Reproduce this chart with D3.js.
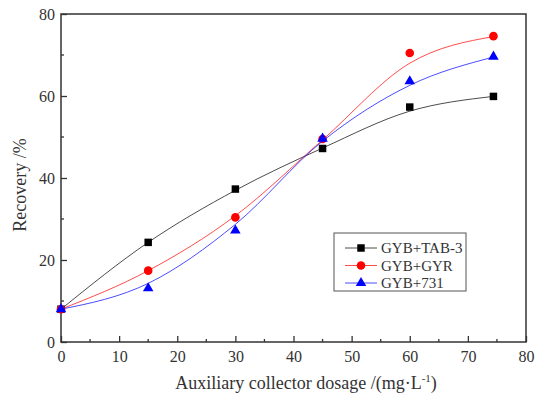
<!DOCTYPE html>
<html>
<head>
<meta charset="utf-8">
<script src="https://cdn.jsdelivr.net/npm/d3@7"></script>
<style>
  body { margin: 0; background: #fff; }
  svg text { font-family: "Liberation Serif", "Times New Roman", Times, serif !important; fill: #333; }
</style>
</head>
<body>
<svg width="547" height="395"></svg>
<script>
// data
let dosage = [0, 15, 30, 45, 60, 74.4];
let tab3 = [8, 24.3, 37.3, 47.2, 57.3, 59.9];
let gyr = [8, 17.4, 30.4, 49.5, 70.5, 74.6];
let s731 = [8, 13.1, 27.2, 49.6, 63.6, 69.6];
// fitted curves as drawn (read at the same dosages)
let tab3Fit = [8, 24.3, 37.0, 47.3, 56.3, 59.9];
let gyrFit = [8, 17.4, 30.8, 49.3, 68.0, 74.5];
let s731Fit = [8, 14.3, 28.7, 49.0, 62.6, 69.5];
let seriesNames = ['GYB+TAB-3', 'GYB+GYR', 'GYB+731'];
let xTicks = [0, 10, 20, 30, 40, 50, 60, 70, 80];
let yTicks = [0, 20, 40, 60, 80];

const serif = '"Liberation Serif", "Times New Roman", Times, serif';

let svg = d3.select('svg'),
  margin = { top: 14, right: 21, bottom: 53, left: 61 },
  width = +svg.attr('width') - margin.left - margin.right,
  height = +svg.attr('height') - margin.top - margin.bottom,
  g = svg.append('g').attr('transform', `translate(${margin.left}, ${margin.top})`);

let x = d3.scaleLinear().domain([0, 80]).range([0, width]);
let y = d3.scaleLinear().domain([0, 80]).range([height, 0]);

let series = [
  { name: seriesNames[0], pts: tab3, fit: tab3Fit, color: '#000', shape: d3.symbolSquare, size: 56 },
  { name: seriesNames[1], pts: gyr, fit: gyrFit, color: '#ff0000', shape: d3.symbolCircle, size: 58 },
  { name: seriesNames[2], pts: s731, fit: s731Fit, color: '#0000ff', shape: d3.symbolTriangle, size: 48 }
];

// frame
g.append('rect')
  .attr('width', width)
  .attr('height', height)
  .attr('fill', 'none')
  .attr('stroke', '#333')
  .attr('stroke-width', 1.5);

// x axis, inward ticks
let xAxis = g.append('g')
  .attr('transform', `translate(0, ${height})`)
  .call(d3.axisBottom(x).tickValues(xTicks).tickSize(-6).tickPadding(9));
xAxis.append('g').selectAll('line')
  .data(d3.range(5, 80, 10))
  .join('line')
  .attr('x1', d => x(d)).attr('x2', d => x(d))
  .attr('y1', 0).attr('y2', -3);

// y axis, inward ticks
let yAxis = g.append('g')
  .call(d3.axisLeft(y).tickValues(yTicks).tickSize(-6).tickPadding(6));
yAxis.append('g').selectAll('line')
  .data(d3.range(10, 80, 20))
  .join('line')
  .attr('x1', 0).attr('x2', 3)
  .attr('y1', d => y(d)).attr('y2', d => y(d));

g.selectAll('.domain').remove();
xAxis.attr('font-family', null);
yAxis.attr('font-family', null);
xAxis.selectAll('line').attr('stroke', '#333').attr('stroke-width', 1.3);
yAxis.selectAll('line').attr('stroke', '#333').attr('stroke-width', 1.3);
g.selectAll('.tick text')
  .attr('font-size', 16)
  .style('font-family', serif)
  .attr('fill', '#333');
xAxis.selectAll('.tick text').attr('dy', '0.71em');

// curves
let line = d3.line()
  .x((d, i) => x(dosage[i]))
  .y(d => y(d))
  .curve(d3.curveMonotoneX);

let sg = g.append('g').selectAll('g')
  .data(series)
  .join('g');

sg.append('path')
  .attr('d', d => line(d.fit))
  .attr('fill', 'none')
  .attr('stroke', d => d.color)
  .attr('stroke-opacity', 0.7)
  .attr('stroke-width', 1);

sg.selectAll('path.pt')
  .data(d => d.pts.map((v, i) => ({ v: v, i: i, s: d })))
  .join('path')
  .attr('class', 'pt')
  .attr('transform', d => `translate(${x(dosage[d.i])}, ${y(d.v)})`)
  .attr('d', d => d3.symbol().type(d.s.shape).size(d.s.size)())
  .attr('fill', d => d.s.color);

// legend
let lg = g.append('g').attr('transform', `translate(${334 - margin.left}, ${233 - margin.top})`);
lg.append('rect')
  .attr('width', 132)
  .attr('height', 58)
  .attr('fill', '#fff')
  .attr('stroke', '#555')
  .attr('stroke-width', 1);

let item = lg.selectAll('g')
  .data(series)
  .join('g')
  .attr('transform', (d, i) => `translate(0, ${15 + i * 17.5})`);
item.append('line')
  .attr('x1', 11).attr('x2', 43)
  .attr('stroke', d => d.color)
  .attr('stroke-opacity', 0.7);
item.append('path')
  .attr('transform', 'translate(27, 0)')
  .attr('d', d => d3.symbol().type(d.shape).size(d.size)())
  .attr('fill', d => d.color);
item.append('text')
  .attr('x', 47)
  .attr('dy', '0.35em')
  .attr('font-size', 15)
  .style('font-family', serif)
  .text(d => d.name);

// axis titles
svg.append('text')
  .attr('x', 306)
  .attr('y', 389)
  .attr('text-anchor', 'middle')
  .attr('font-size', 18)
  .style('font-family', serif)
  .html('Auxiliary collector dosage /(mg·L<tspan dy="-7" font-size="11">-1</tspan><tspan dy="7">)</tspan>');

svg.append('text')
  .attr('transform', `translate(26, 185) rotate(-90)`)
  .attr('text-anchor', 'middle')
  .attr('font-size', 18)
  .style('font-family', serif)
  .text('Recovery /%');
</script>
</body>
</html>
